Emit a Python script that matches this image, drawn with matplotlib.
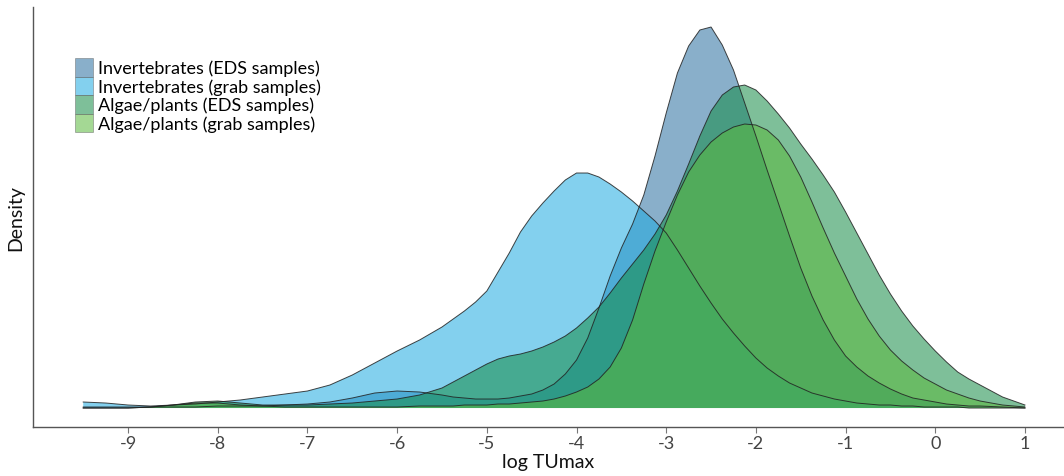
import matplotlib
matplotlib.use("Agg")
import matplotlib.pyplot as plt
from matplotlib.patches import Patch

plt.rcParams['font.family'] = ['Lato', 'DejaVu Sans']

# log TUmax grid (finer where the curves bend) and density of each group
log_tu = [-9.5, -9.25, -9.0, -8.75, -8.5, -8.25, -8.0, -7.75, -7.5, -7.25,
          -7.0, -6.75, -6.5, -6.25, -6.0, -5.75, -5.5,
          -5.375, -5.25, -5.125, -5.0, -4.875, -4.75, -4.625, -4.5,
          -4.375, -4.25, -4.125, -4.0, -3.875, -3.75, -3.625, -3.5,
          -3.375, -3.25, -3.125, -3.0, -2.875, -2.75, -2.625, -2.5,
          -2.375, -2.25, -2.125, -2.0, -1.875, -1.75, -1.625, -1.5,
          -1.375, -1.25, -1.125, -1.0, -0.875, -0.75, -0.625, -0.5,
          -0.375, -0.25, -0.125, 0.0, 0.125, 0.25, 0.375, 0.5,
          0.75, 1.0]

inv_eds = [.001, .001, .001, .001, .001, .001, .002, .002, .002, .003,
           .004, .006, .010, .015, .017, .016, .013,
           .011, .010, .009, .009, .009, .010, .012, .014,
           .018, .024, .034, .048, .070, .100, .132, .160,
           .184, .213, .252, .295, .335, .362, .378, .381,
           .363, .338, .305, .272, .238, .205, .172, .140,
           .112, .088, .068, .052, .041, .032, .025, .019,
           .014, .010, .008, .006, .004, .003, .002, .002,
           .001, .000]

inv_grab = [.006, .005, .003, .002, .003, .004, .006, .008, .011, .014,
            .017, .023, .033, .045, .057, .068, .081,
            .089, .097, .106, .117, .136, .155, .176, .192,
            .205, .217, .228, .235, .235, .231, .224, .216,
            .207, .197, .187, .175, .158, .140, .122, .105,
            .089, .075, .062, .050, .040, .032, .025, .020,
            .015, .012, .009, .007, .005, .004, .003, .003,
            .002, .002, .001, .001, .001, .001, .000, .000,
            .000, .000]

alg_eds = [.000, .000, .000, .001, .003, .006, .007, .005, .003, .003,
           .003, .004, .005, .007, .009, .013, .020,
           .026, .032, .038, .044, .049, .052, .054, .057,
           .061, .066, .072, .080, .090, .101, .115, .130,
           .144, .158, .174, .193, .217, .244, .272, .297,
           .313, .321, .323, .318, .307, .294, .280, .264,
           .249, .233, .216, .196, .175, .154, .133, .114,
           .097, .082, .069, .057, .046, .036, .029, .023,
           .011, .003]

alg_grab = [.000, .000, .000, .001, .003, .005, .005, .003, .002, .001,
            .001, .001, .001, .001, .001, .002, .002,
            .002, .003, .003, .003, .004, .004, .005, .006,
            .007, .009, .012, .016, .021, .029, .041, .060,
            .088, .124, .157, .186, .213, .236, .253, .266,
            .275, .281, .284, .283, .278, .268, .252, .231,
            .206, .180, .155, .132, .109, .089, .072, .058,
            .047, .038, .030, .024, .018, .014, .010, .007,
            .003, .001]

labels = ['Invertebrates (EDS samples)', 'Invertebrates (grab samples)',
          'Algae/plants (EDS samples)', 'Algae/plants (grab samples)']
colors = ['#286ea0', '#1eaae1', '#148c46', '#5ab93c']
series = [inv_eds, inv_grab, alg_eds, alg_grab]
alpha = 0.55

fig = plt.figure(figsize=(10.64, 4.77), dpi=100)
ax = fig.add_axes([0.031, 0.1027, 0.969, 0.8805])

for dens, col in zip(series, colors):
    ax.fill_between(log_tu, 0, dens, facecolor=col, alpha=alpha,
                    edgecolor='none', zorder=2)
    ax.plot(log_tu, dens, color='#222222', lw=0.7, alpha=0.85, zorder=3)

ax.set_xlim(-10.06, 1.435)
ax.set_ylim(-0.019, 0.401)
ax.set_xticks(range(-9, 2))
ax.set_xticklabels([str(v) for v in range(-9, 2)])
ax.set_yticks([])

for side in ['top', 'right']:
    ax.spines[side].set_visible(False)
for side in ['left', 'bottom']:
    ax.spines[side].set_color('#555555')
    ax.spines[side].set_linewidth(1.0)
ax.tick_params(axis='x', length=4, width=0.8, color='#777777',
               labelsize=13, labelcolor='#444444', pad=2)

ax.set_xlabel('log TUmax', fontsize=14, color='#111111', labelpad=1)
ax.set_ylabel('Density', fontsize=14, color='#111111', labelpad=6)

handles = [Patch(facecolor=c, alpha=alpha, edgecolor='#666666', linewidth=0.6)
           for c in colors]
ax.legend(handles, labels, loc='upper left', bbox_to_anchor=(0.032, 0.9),
          frameon=False, fontsize=13, handlelength=1.0, handleheight=1.2,
          handletextpad=0.3, labelspacing=0.0, borderpad=0.0)

fig.savefig('out.png', dpi=100)
